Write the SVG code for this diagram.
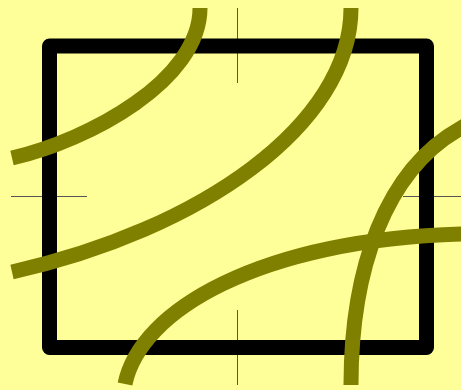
<svg xmlns="http://www.w3.org/2000/svg" width="461" height="390" viewBox="0 0 461 390">
  <style>
    .cross { stroke: #555; stroke-width: 1; fill: none; }
    .frame { stroke: #000; stroke-width: 15; fill: none; stroke-linejoin: round; }
    .curve { stroke: #808000; stroke-width: 15; fill: none; stroke-linecap: butt; stroke-linejoin: round; }
  </style>
  <rect x="0" y="0" width="461" height="390" fill="#ffff99"/>
  <g id="crosshair">
    <line class="cross" x1="237.5" y1="8" x2="237.5" y2="83"/>
    <line class="cross" x1="237.5" y1="310" x2="237.5" y2="385"/>
    <line class="cross" x1="11" y1="196.5" x2="87" y2="196.5"/>
    <line class="cross" x1="403" y1="196.5" x2="461" y2="196.5"/>
  </g>
  <g id="frame">
    <rect class="frame" x="49.5" y="46" width="377" height="301.5"/>
  </g>
  <g id="curves">
    <path class="curve" d="M200,8 C200,80 90,140 12,158"/>
    <path class="curve" d="M351,8 C351,125 200,230 12,272"/>
    <path class="curve" d="M125,384 C140,310 260,240 461,234 L475,233.6"/>
    <path class="curve" d="M351,385 C351,270 385,170 461,128 L475,120"/>
  </g>
</svg>
